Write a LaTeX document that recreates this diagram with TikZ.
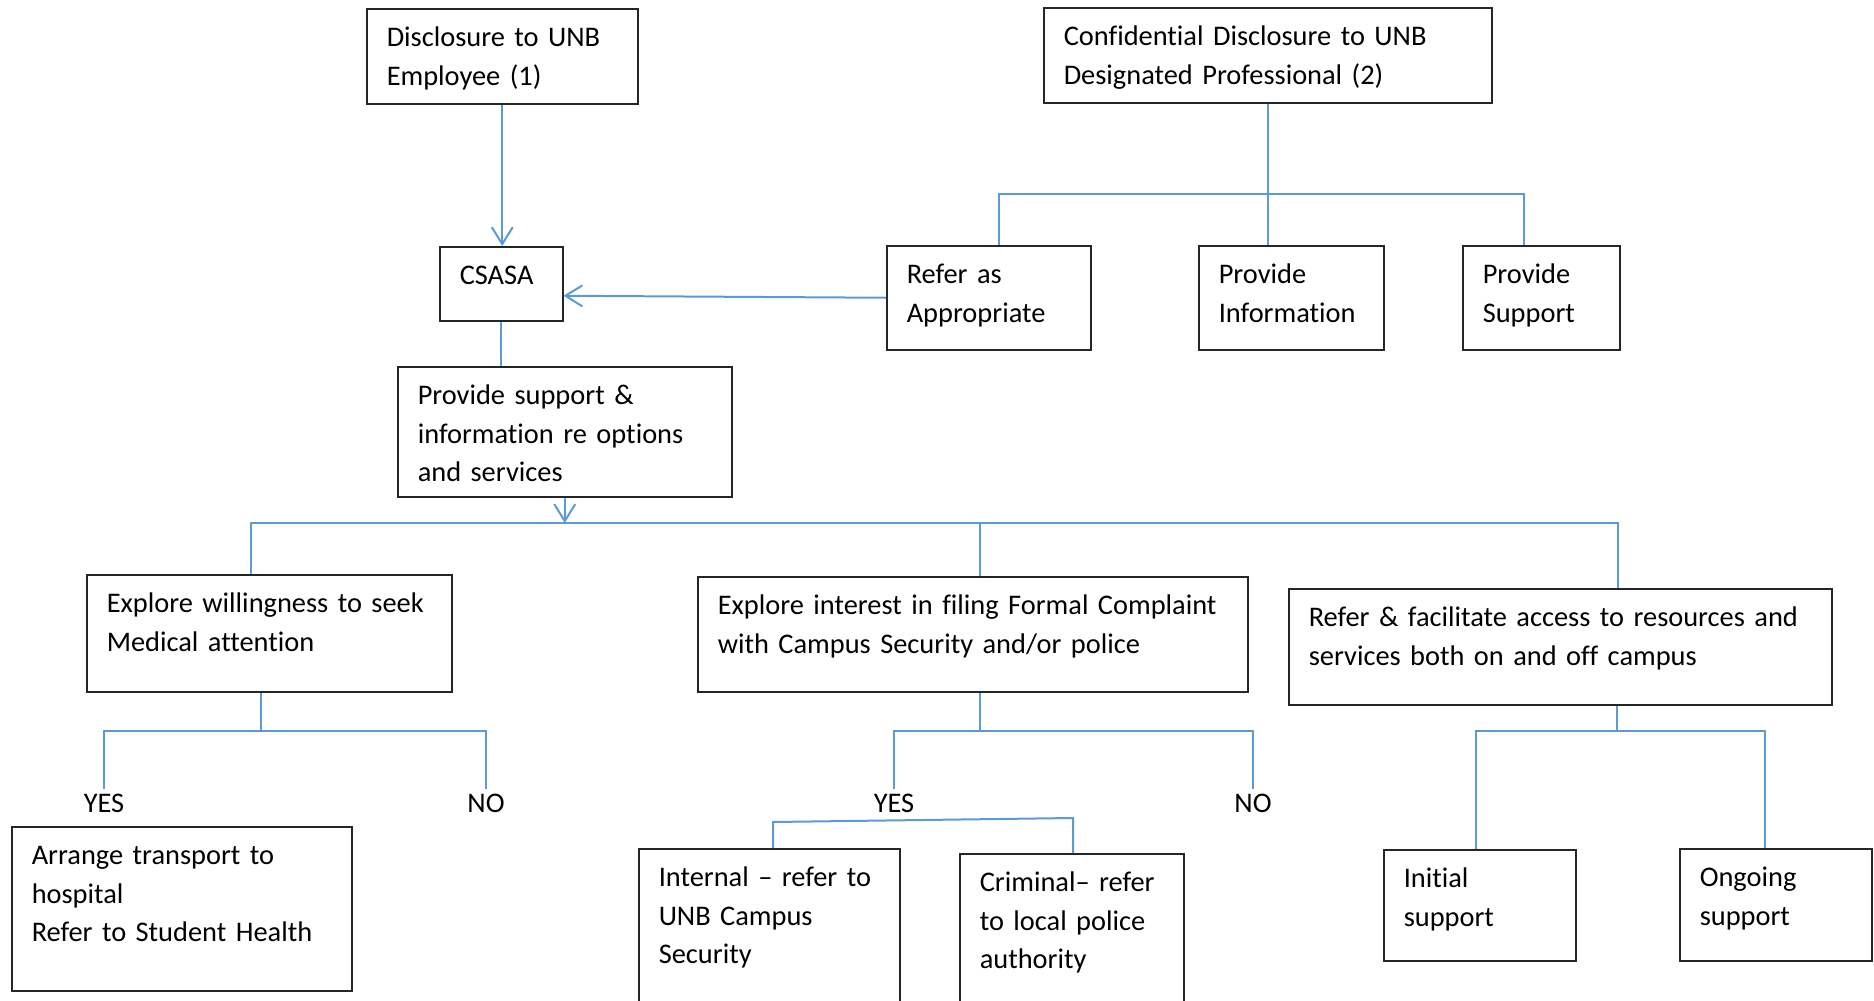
\documentclass[tikz,border=0pt]{standalone}
\usepackage{fontspec}
\setmainfont{Carlito}[Ligatures=NoCommon]
\usepackage{tikz}
\usetikzlibrary{arrows.meta}
\definecolor{linkblue}{RGB}{91,155,213}
\tikzstyle{process} = [rectangle, draw=black!85, line width=0.75pt, anchor=north west, align=left, inner xsep=10pt, inner ysep=0pt, text height=19pt, font=\fontsize{14.2}{19.15}\selectfont]
\tikzstyle{answer} = [inner sep=2pt, font=\fontsize{14.2}{19.15}\selectfont]
\tikzstyle{link} = [draw=linkblue, line width=1pt]
\tikzstyle{arrow} = [link, -{Straight Barb[length=8.5pt,width=10.5pt]}]

\begin{document}
\begin{tikzpicture}[x=0.5pt, y=-0.5pt]
    \useasboundingbox (0,0) rectangle (1874,1001);
    \clip (0,0) rectangle (1874,1001);

    \node (emp) [process, text width=115.5pt, text depth=28.5pt] at (366,8) {Disclosure to UNB\\Employee (1)};
    \node (conf) [process, text width=204pt, text depth=28.5pt] at (1043,7) {Confidential Disclosure to UNB\\Designated Professional (2)};
    \node (csasa) [process, text width=41.5pt, text depth=18pt] at (439,246) {CSASA};
    \node (refer) [process, text width=82pt, text depth=33pt] at (886,245) {Refer as\\Appropriate};
    \node (info) [process, text width=72.5pt, text depth=33pt] at (1198,245) {Provide\\Information};
    \node (supp) [process, text width=58.5pt, text depth=33pt] at (1462,245) {Provide\\Support};
    \node (prov) [process, text width=147pt, text depth=46pt] at (397,366) {Provide support \&\\information re options\\and services};

    \node (med) [process, text width=162.5pt, text depth=39.5pt] at (86,574) {Explore willingness to seek\\Medical attention};
    \node (complaint) [process, text width=255pt, text depth=38.5pt] at (697,576) {Explore interest in filing Formal Complaint\\with Campus Security and/or police};
    \node (res) [process, text width=251.5pt, text depth=39pt] at (1288,588) {Refer \& facilitate access to resources and\\services both on and off campus};

    \node (yes1) [answer] at (104,803) {YES};
    \node (no1) [answer] at (486,803) {NO};
    \node (yes2) [answer] at (894,803) {YES};
    \node (no2) [answer] at (1253,803) {NO};

    \node (arrange) [process, text width=150pt, text depth=63pt] at (11,826) {Arrange transport to\\hospital\\Refer to Student Health};
    \node (internal) [process, text width=110.5pt, text depth=66pt] at (638,848) {Internal – refer to\\UNB Campus\\Security};
    \node (criminal) [process, text width=92pt, text depth=66pt] at (959,853) {Criminal– refer\\to local police\\authority};
    \node (initial) [process, text width=76pt, text depth=36.5pt] at (1383,849) {Initial\\support};
    \node (ongoing) [process, text width=76pt, text depth=37pt] at (1679,848) {Ongoing\\support};

    % branch points
    \coordinate (t1) at (999,194);
    \coordinate (t3) at (1524,194);
    \coordinate (split) at (566,523);
    \coordinate (b1) at (251,523);
    \coordinate (b2) at (980,523);
    \coordinate (b3) at (1618,523);
    \coordinate (m0) at (261,731);
    \coordinate (c0) at (980,731);
    \coordinate (k1) at (773,822);
    \coordinate (k2) at (1073,818);
    \coordinate (r0) at (1617,731);
    \coordinate (r1) at (1476,731);
    \coordinate (r2) at (1765,731);

    \draw [arrow] (emp.south) -- (emp.south |- csasa.north);
    \draw [link] (conf.south) -- (conf.south |- info.north);
    \draw [link] (refer.north -| t1) -- (t1) -- (t3) -- (supp.north -| t3);
    \draw [arrow] (refer.west) -- ([yshift=-6pt]csasa.east);
    \draw [link] (csasa.south) -- (csasa.south |- prov.north);
    \draw [arrow] (prov.south) -- (prov.south |- split);
    \draw [link] (med.north -| b1) -- (b1) -- (b3) -- (res.north -| b3);
    \draw [link] (b2) -- (complaint.north -| b2);

    \draw [link] (med.south -| m0) -- (m0);
    \draw [link] (yes1) |- (m0) -| (no1);
    \draw [link] (complaint.south -| c0) -- (c0);
    \draw [link] (yes2) |- (c0) -| (no2);
    \draw [link] (internal.north -| k1) -- (k1) -- (k2) -- (criminal.north -| k2);
    \draw [link] (res.south -| r0) -- (r0);
    \draw [link] (initial.north -| r1) -- (r1) -- (r2) -- (ongoing.north -| r2);

\end{tikzpicture}
\end{document}
